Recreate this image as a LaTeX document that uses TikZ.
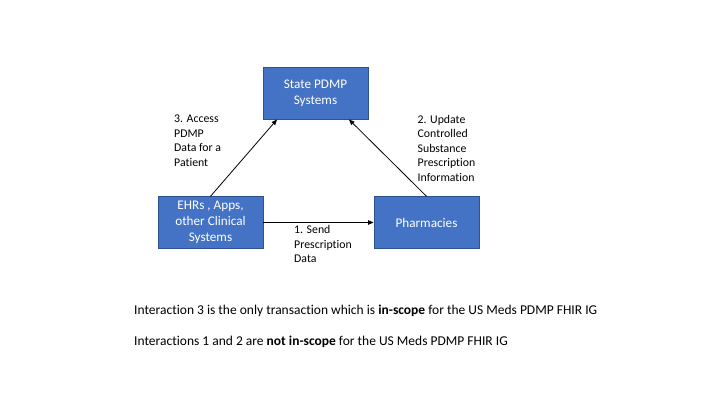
\documentclass[tikz,border=0pt]{standalone}
\usepackage{fontspec}
\setmainfont[RawFeature=-liga]{Carlito}
\usetikzlibrary{arrows.meta}
\definecolor{boxfill}{HTML}{4472C4}
\definecolor{boxedge}{HTML}{2F528F}
\tikzset{
  sysbox/.style={draw=boxedge, fill=boxfill, line width=0.9pt, text=white,
    align=center, inner sep=0pt, font=\fontsize{13.2}{16.1}\selectfont},
  flow/.style={-{Triangle[length=5.5pt,width=4.5pt]}, line width=0.8pt, black},
  flowlabel/.style={anchor=north west, align=left, inner sep=0pt,
    font=\fontsize{11.8}{14.5}\selectfont},
  note/.style={anchor=west, inner sep=0pt, font=\fontsize{13.5}{15}\selectfont}
}
\begin{document}
\begin{tikzpicture}[x=1pt,y=-1pt]
  \useasboundingbox (0,0) rectangle (720,405);
  \fill[white] (0,0) rectangle (720,405);

  % the three parties
  \node[sysbox, minimum width=105pt, minimum height=52pt] (pdmp) at (315.5,93)
    {State PDMP\\Systems};
  \node[sysbox, minimum width=105pt, minimum height=51.5pt] (ehr) at (210.5,222.5)
    {EHRs , Apps,\\other Clinical\\Systems};
  \node[sysbox, minimum width=105pt, minimum height=51.5pt] (pharm) at (426.5,222.5)
    {Pharmacies};

  % end points on the PDMP box
  \coordinate (pdmpL) at (277,119.5);
  \coordinate (pdmpR) at (349,119.5);

  % interactions
  \draw[flow] (ehr.north) -- (pdmpL);
  \draw[flow] (pharm.north) -- (pdmpR);
  \draw[flow] (ehr.east) -- (pharm.west);

  % interaction labels
  \node[flowlabel] (l3) at (174,115) {3. Access\\PDMP\\Data for a\\Patient};
  \node[flowlabel] (l2) at (417.5,115) {2. Update\\Controlled\\Substance\\Prescription\\Information};
  \node[flowlabel] (l1) at (294,225.5) {1. Send\\Prescription\\Data};

  % scope notes
  \node[note] (n1) at (134,310.5) {Interaction 3 is the only transaction which is \textbf{in-scope} for the US Meds PDMP FHIR IG};
  \node[note] (n2) at (134,341.5) {Interactions 1 and 2 are \textbf{not in-scope} for the US Meds PDMP FHIR IG};
\end{tikzpicture}
\end{document}
